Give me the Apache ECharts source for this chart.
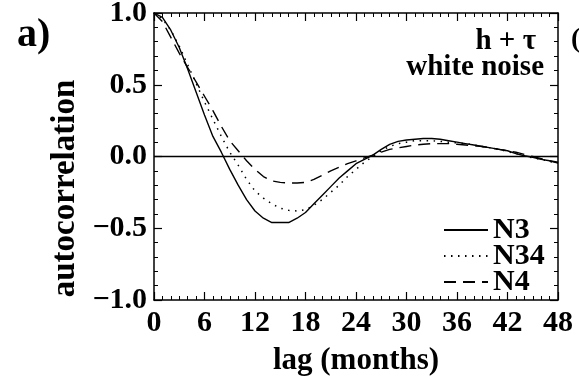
<!DOCTYPE html>
<html>
<head>
<meta charset="utf-8">
<script src="https://cdn.jsdelivr.net/npm/echarts@6/dist/echarts.min.js"></script>
<style>
  html, body { margin: 0; padding: 0; background: #fff; }
  #chart { width: 579px; height: 377px; }
</style>
</head>
<body>
<div id="chart"></div>
<script>
// lag in months, one value per month
const lags = [];
for (let i = 0; i <= 48; i++) lags.push(i);

const n3 = [1.0, 0.97, 0.88, 0.76, 0.61, 0.45, 0.29, 0.14, 0.03, -0.09,
  -0.20, -0.30, -0.38, -0.43, -0.46, -0.46, -0.46, -0.43, -0.39, -0.33,
  -0.27, -0.21, -0.15, -0.10, -0.05, -0.02, 0.01, 0.05, 0.085, 0.105,
  0.115, 0.12, 0.125, 0.125, 0.12, 0.11, 0.10, 0.09, 0.08, 0.07,
  0.06, 0.05, 0.04, 0.02, 0.005, -0.005, -0.02, -0.03, -0.045];

const n34 = [1.0, 0.96, 0.88, 0.77, 0.64, 0.51, 0.38, 0.26, 0.14, 0.03,
  -0.06, -0.16, -0.24, -0.29, -0.33, -0.36, -0.375, -0.38, -0.37, -0.34,
  -0.30, -0.25, -0.20, -0.14, -0.09, -0.04, 0.0, 0.04, 0.07, 0.09,
  0.10, 0.11, 0.11, 0.11, 0.105, 0.10, 0.095, 0.09, 0.08, 0.07,
  0.06, 0.05, 0.035, 0.02, 0.005, -0.01, -0.02, -0.035, -0.045];

const n4 = [1.0, 0.94, 0.83, 0.72, 0.62, 0.52, 0.42, 0.32, 0.21, 0.11,
  0.04, -0.03, -0.09, -0.14, -0.17, -0.18, -0.185, -0.185, -0.18, -0.16,
  -0.13, -0.10, -0.075, -0.05, -0.03, -0.01, 0.01, 0.03, 0.05, 0.06,
  0.07, 0.08, 0.085, 0.09, 0.09, 0.09, 0.085, 0.08, 0.075, 0.07,
  0.06, 0.05, 0.04, 0.03, 0.015, 0.0, -0.015, -0.03, -0.04];

const xTicks = [0, 6, 12, 18, 24, 30, 36, 42, 48];
const yTicks = [-1.0, -0.5, 0.0, 0.5, 1.0];

const FONT = 'Liberation Serif';
const pairs = (vals) => lags.map((l, i) => [l, vals[i]]);

const chart = echarts.init(document.getElementById('chart'), null, { renderer: 'canvas' });

const axisLine = { show: true, onZero: false, lineStyle: { color: '#000', width: 1.5 } };
const labelStyle = { color: '#000', fontFamily: FONT, fontWeight: 'bold', fontSize: 30 };

function xAx(pos, labels) {
  return {
    type: 'value', position: pos, min: xTicks[0], max: xTicks[xTicks.length - 1], interval: 6,
    axisLine: axisLine,
    axisTick: { show: true, inside: true, length: 8, lineStyle: { color: '#000', width: 1.2 } },
    minorTick: { show: true, splitNumber: 6, length: 4, lineStyle: { color: '#000', width: 1 } },
    splitLine: { show: false },
    axisLabel: labels ? Object.assign({ margin: 8 }, labelStyle) : { show: false },
    name: labels ? 'lag (months)' : '',
    nameLocation: 'middle', nameGap: 45,
    nameTextStyle: Object.assign({}, labelStyle, { fontSize: 31 })
  };
}
function yAx(pos, labels) {
  return {
    type: 'value', position: pos, min: yTicks[0], max: yTicks[yTicks.length - 1], interval: 0.5,
    axisLine: axisLine,
    axisTick: { show: true, inside: true, length: 8, lineStyle: { color: '#000', width: 1.2 } },
    minorTick: { show: true, splitNumber: 5, length: 4, lineStyle: { color: '#000', width: 1 } },
    splitLine: { show: false },
    axisLabel: labels ? Object.assign({
      margin: 7,
      formatter: v => (v < 0 ? '\u2212' : '') + Math.abs(v).toFixed(1)
    }, labelStyle) : { show: false },
    name: labels ? 'autocorrelation' : '',
    nameLocation: 'middle', nameGap: 72,
    nameTextStyle: Object.assign({}, labelStyle, { fontSize: 33, padding: [0, 64, 0, 0] })
  };
}

const option = {
  animation: false,
  backgroundColor: '#fff',
  grid: { left: 154, right: 21, top: 13, bottom: 77, outerBoundsMode: 'none' },
  xAxis: [xAx('bottom', true), xAx('top', false)],
  yAxis: [yAx('left', true), yAx('right', false)],
  legend: {
    orient: 'vertical', left: 438, top: 203,
    itemWidth: 44, itemHeight: 14, itemGap: -18,
    itemStyle: { opacity: 0 },
    textStyle: {
      color: '#000', fontFamily: FONT, fontWeight: 'bold', fontSize: 30,
      lineHeight: 12, padding: [0, 0, 32, 0]
    },
    data: ['N3', 'N34', 'N4']
  },
  graphic: [
    { type: 'text', left: 17, top: 16, style: { text: 'a)', fill: '#000', font: 'bold 40px "Liberation Serif"' } },
    { type: 'text', left: 571, top: 26, style: { text: '(', fill: '#000', font: 'bold 28px "Liberation Serif"' } },
    { type: 'text', right: 43, top: 27, style: { text: 'h + \u03c4', fill: '#000', font: 'bold 29px "Liberation Serif"' } },
    { type: 'text', right: 35, top: 53, style: { text: 'white noise', fill: '#000', font: 'bold 29px "Liberation Serif"' } }
  ],
  series: [
    {
      name: 'N3', type: 'line', data: pairs(n3), showSymbol: false, symbol: 'none',
      lineStyle: { color: '#000', width: 1.4, type: 'solid' },
      markLine: {
        silent: true, symbol: ['none', 'none'], label: { show: false },
        lineStyle: { color: '#000', width: 1.3, type: 'solid' },
        data: [{ yAxis: 0 }]
      }
    },
    {
      name: 'N34', type: 'line', data: pairs(n34), showSymbol: false, symbol: 'none',
      lineStyle: { color: '#000', width: 1.5, type: [1.5, 5.5] }
    },
    {
      name: 'N4', type: 'line', data: pairs(n4), showSymbol: false, symbol: 'none',
      lineStyle: { color: '#000', width: 1.4, type: [12, 7] }
    }
  ]
};
chart.setOption(option);
</script>
</body>
</html>
